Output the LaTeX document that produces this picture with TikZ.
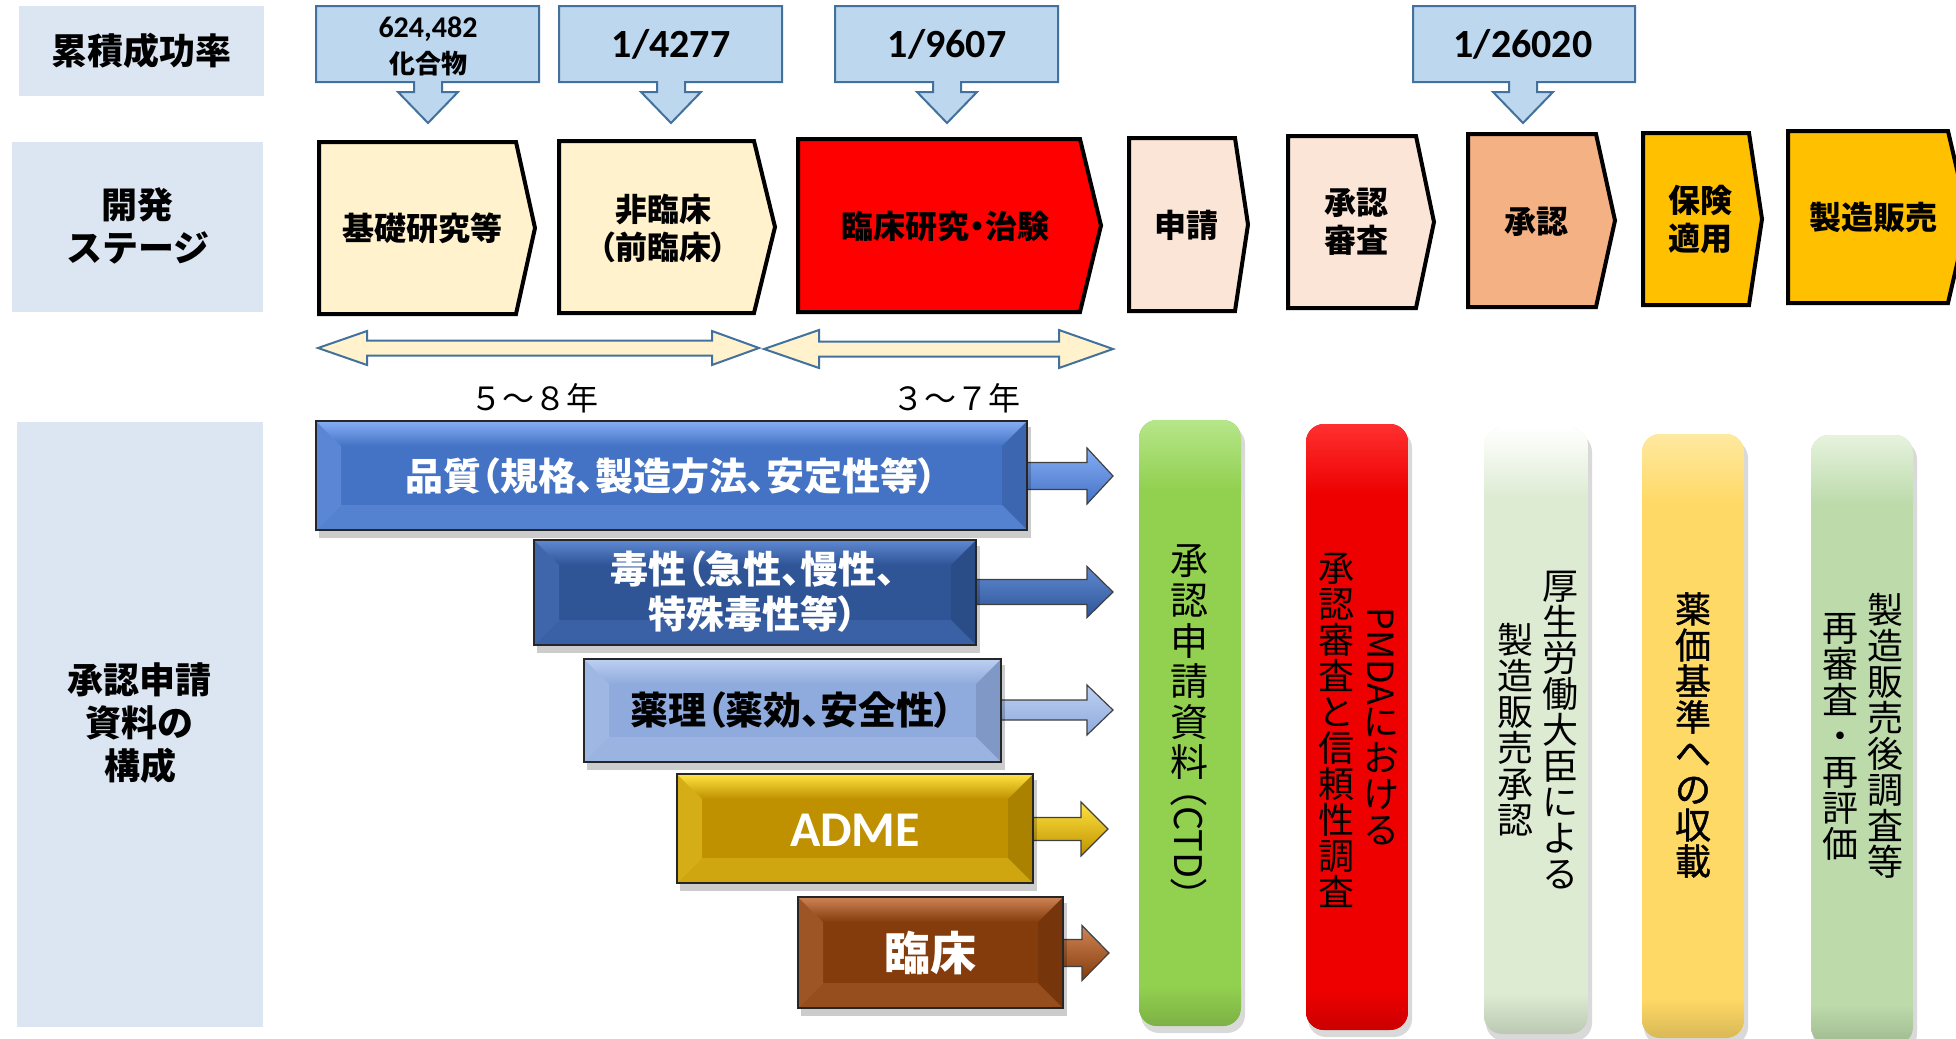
\documentclass[tikz,border=0pt]{standalone}
\usepackage{fontspec}
\usepackage{graphicx}
\setmainfont{Noto Sans CJK JP}
\newfontfamily\jpp{Noto Sans CJK JP}[RawFeature=+palt]
\newfontfamily\jpfb{Noto Sans CJK JP}[FakeBold=1.2]
\newfontfamily\calib{Carlito}
\definecolor{lblc}{HTML}{DCE6F2}
\definecolor{cboxc}{HTML}{BDD7EE}
\definecolor{cedgec}{HTML}{41719C}
\definecolor{creamc}{HTML}{FFF2CC}
\definecolor{peachc}{HTML}{FBE5D6}
\definecolor{salmonc}{HTML}{F4B183}
\definecolor{amberc}{HTML}{FFC000}
\definecolor{redc}{HTML}{FF0000}
\definecolor{q1}{HTML}{4472C4}\definecolor{q1l}{HTML}{86AEF5}
\definecolor{q2}{HTML}{2F5597}\definecolor{q2l}{HTML}{5E88D2}
\definecolor{q3}{HTML}{8FAADC}\definecolor{q3l}{HTML}{BDD0F2}
\definecolor{q4}{HTML}{BF9000}\definecolor{q4l}{HTML}{FFE440}
\definecolor{q5}{HTML}{843C0C}\definecolor{q5l}{HTML}{CF8455}
\definecolor{g1}{HTML}{92D050}\definecolor{g1l}{HTML}{B6E68A}
\definecolor{g2}{HTML}{EE0000}\definecolor{g2l}{HTML}{FF3030}
\definecolor{g3}{HTML}{DDEBD2}\definecolor{g3l}{HTML}{FFFFFF}
\definecolor{g4}{HTML}{FFD966}\definecolor{g4l}{HTML}{FFE9A0}
\definecolor{g5}{HTML}{BCDAAA}\definecolor{g5l}{HTML}{E6F3DE}
\newcommand{\rot}[1]{\raisebox{0.8em}{\rotatebox{-90}{#1}}}
% callout box: x1, x2, cx
\newcommand{\callout}[3]{\draw[callbox] (#1,6) -- (#2,6) -- (#2,82) -- (#3+14,82) -- (#3+14,92) -- (#3+30,92) -- (#3,123) -- (#3-30,92) -- (#3-14,92) -- (#3-14,82) -- (#1,82) -- cycle;}
% chevron: fill, x1, xn, xp, top, bottom
\newcommand{\chev}[6]{\draw[chevbox,fill=#1] (#2,#5) -- (#3,#5) -- (#4,{(#5+#6)/2}) -- (#3,#6) -- (#2,#6) -- cycle;}
% double arrow: xl, xlb, xrb, xr, cy, head half
\newcommand{\dblarrow}[6]{\draw[dbl] (#1,#5) -- (#2,#5-#6) -- (#2,#5-7.5) -- (#3,#5-7.5) -- (#3,#5-#6) -- (#4,#5) -- (#3,#5+#6) -- (#3,#5+7.5) -- (#2,#5+7.5) -- (#2,#5+#6) -- cycle;}
% bevel bar: x1,y1,x2,y2,base,light
\newcommand{\mybar}[6]{%
 \fill[black,opacity=0.2] (#1+3,#2+6) rectangle (#3+4,#4+8);
 \fill[#5] (#1,#2) rectangle (#3,#4);
 \shade[top color=#6,bottom color=#5] (#1,#2) -- (#3,#2) -- (#3-25,#2+25) -- (#1+25,#2+25) -- cycle;
 \fill[#6,opacity=0.35] (#1,#2) -- (#1+25,#2+25) -- (#1+25,#4-25) -- (#1,#4) -- cycle;
 \fill[black,opacity=0.10] (#3,#2) -- (#3-25,#2+25) -- (#3-25,#4-25) -- (#3,#4) -- cycle;
 \fill[#6,opacity=0.25] (#1,#4) -- (#1+25,#4-25) -- (#3-25,#4-25) -- (#3,#4) -- cycle;
 \draw[line width=1pt,black!85] (#1,#2) rectangle (#3,#4);}
% block arrow: x0, cy, shaft half, head half, back, tip, base, light
\newcommand{\barrow}[8]{\shadedraw[top color=#8,bottom color=#7,draw=black!75,line width=0.6pt] (#1,#2-#3) -- (#5,#2-#3) -- (#5,#2-#4) -- (#6,#2) -- (#5,#2+#4) -- (#5,#2+#3) -- (#1,#2+#3) -- cycle;}
% vertical rounded bar: x1,y1,x2,y2,base,light
\newcommand{\myvbar}[6]{%
 \fill[black,opacity=0.15,rounded corners=9pt] (#1+2,#2+6) rectangle (#3+4,#4+7);
 \begin{scope}
 \clip[rounded corners=9pt] (#1,#2) rectangle (#3,#4);
 \fill[#5] (#1,#2) rectangle (#3,#4);
 \shade[top color=#6,bottom color=#5] (#1,#2) rectangle (#3,#2+70);
 \shade[top color=#5,bottom color=#5!85!black] (#1,#4-40) rectangle (#3,#4);
 \end{scope}}
\begin{document}
\begin{tikzpicture}[x=0.5pt,y=-0.5pt,
 every node/.style={inner sep=0pt},
 lblbox/.style={fill=lblc},
 lbltxt/.style={font=\bfseries\fontsize{18}{21.5}\selectfont,align=center},
 callbox/.style={fill=cboxc,draw=cedgec,line width=1pt},
 numbig/.style={font=\calib\bfseries\fontsize{20}{20}\selectfont},
 chevbox/.style={draw=black,line width=2pt,line join=miter},
 chevtxt/.style={font=\jpp\bfseries\fontsize{16}{19}\selectfont,align=center},
 dbl/.style={fill=creamc,draw=cedgec,line width=1pt},
 yrtxt/.style={font=\fontsize{16}{16}\selectfont},
 bartxt/.style={font=\jpp\bfseries\fontsize{19}{22.5}\selectfont,align=center},
 vtxt/.style={font=\fontsize{18}{18}\selectfont,align=center}]
\useasboundingbox (0,0) rectangle (1956,1039);
\clip (0,0) rectangle (1956,1039);
% left label boxes
\fill[lblbox] (19,6) rectangle (264,96);
\node[lbltxt] (l1) at (141,51) {累積成功率};
\fill[lblbox] (12,142) rectangle (263,312);
\node[lbltxt] (l2) at (138,226) {開発\\ステージ};
\fill[lblbox] (17,422) rectangle (263,1027);
\node[lbltxt] (l3) at (140,723) {承認申請\\資料の\\構成};
% callouts
\callout{316}{539}{428}
\callout{559}{782}{671}
\callout{835}{1058}{947}
\callout{1413}{1635}{1523}
\node[font=\calib\bfseries\fontsize{15}{15}\selectfont] (c1a) at (428,29) {624,482};
\node[font=\bfseries\fontsize{13}{13}\selectfont] (c1b) at (428,64) {化合物};
\node[numbig] (c2) at (671,44) {1/4277};
\node[numbig] (c3) at (947,44) {1/9607};
\node[numbig] (c4) at (1523,44) {1/26020};
% stages
\chev{creamc}{319}{516}{535}{142}{314}
\chev{creamc}{559}{754}{775}{141}{313}
\chev{redc}{798}{1080}{1101}{139}{312}
\chev{peachc}{1129}{1235}{1248}{138}{311}
\chev{peachc}{1288}{1416}{1434}{136}{308}
\chev{salmonc}{1468}{1596}{1615}{134}{307}
\chev{amberc}{1643}{1749}{1762}{133}{305}
\chev{amberc}{1788}{1948}{1968}{131}{303}
\node[chevtxt] (s1) at (422,228) {基礎研究等};
\node[chevtxt] (s2) at (663,228) {非臨床\\（前臨床）};
\node[chevtxt] (s3) at (945,226) {臨床研究・治験};
\node[chevtxt] (s4) at (1186,225) {申請};
\node[chevtxt] (s5) at (1356,222) {承認\\審査};
\node[chevtxt] (s6) at (1536,222) {承認};
\node[chevtxt] (s7) at (1700,219) {保険\\適用};
\node[chevtxt] (s8) at (1873,217) {製造販売};
% durations
\dblarrow{318}{367}{712}{759}{348}{17}
\dblarrow{764}{819}{1059}{1113}{349}{19}
\node[yrtxt] (y1) at (534,398) {５～８年};
\node[yrtxt] (y2) at (956,398) {３～７年};
% document bars
\barrow{1000}{476}{13.5}{28}{1087}{1113}{q1}{q1l}
\barrow{960}{592}{12.5}{25.5}{1087}{1113}{q2}{q2l}
\barrow{990}{710}{10}{25}{1087}{1113}{q3}{q3l}
\barrow{1020}{829}{11.5}{27}{1081}{1108}{q4}{q4l}
\barrow{1050}{953}{13.5}{27.5}{1082}{1109}{q5}{q5l}
\mybar{316}{421}{1027}{530}{q1}{q1l}
\mybar{534}{540}{976}{645}{q2}{q2l}
\mybar{584}{659}{1001}{762}{q3}{q3l}
\mybar{677}{774}{1033}{883}{q4}{q4l}
\mybar{798}{897}{1063}{1008}{q5}{q5l}
\node[bartxt,text=white] (b1) at (671,476) {品質（規格、製造方法、安定性等）};
\node[bartxt,text=white] (b2) at (753,592) {毒性（急性、慢性、\\特殊毒性等）};
\node[bartxt] (b3) at (792,710) {薬理（薬効、安全性）};
\node[font=\calib\bfseries\fontsize{25}{25}\selectfont,text=white] (b4) at (855,830) {ADME};
\node[font=\bfseries\fontsize{23}{23}\selectfont,text=white] (b5) at (930,953) {臨床};
% vertical bars
\myvbar{1139}{420}{1241}{1026}{g1}{g1l}
\myvbar{1306}{424}{1408}{1030}{g2}{g2l}
\myvbar{1484}{428}{1588}{1034}{g3}{g3l}
\myvbar{1642}{434}{1744}{1038}{g4}{g4l}
\myvbar{1811}{435}{1913}{1045}{g5}{g5l}
\node[vtxt,font=\fontsize{19}{20.25}\selectfont] (v1) at (1189,721) {承\\認\\申\\請\\資\\料\\\rot{\jpp（CTD）}};
\node[vtxt] (v2r) at (1381,726) {\rot{PMDA}\\に\\お\\け\\る};
\node[vtxt] (v2l) at (1336,730) {承\\認\\審\\査\\と\\信\\頼\\性\\調\\査};
\node[vtxt] (v3r) at (1560,730) {厚\\生\\労\\働\\大\\臣\\に\\よ\\る};
\node[vtxt] (v3l) at (1515,730) {製\\造\\販\\売\\承\\認};
\node[vtxt,font=\jpfb\fontsize{18}{18}\selectfont] (v4) at (1693,735) {薬\\価\\基\\準\\へ\\の\\収\\載};
\node[vtxt] (v5r) at (1885,736) {製\\造\\販\\売\\後\\調\\査\\等};
\node[vtxt] (v5l) at (1840,737) {再\\審\\査\\・\\再\\評\\価};
\end{tikzpicture}
\end{document}
